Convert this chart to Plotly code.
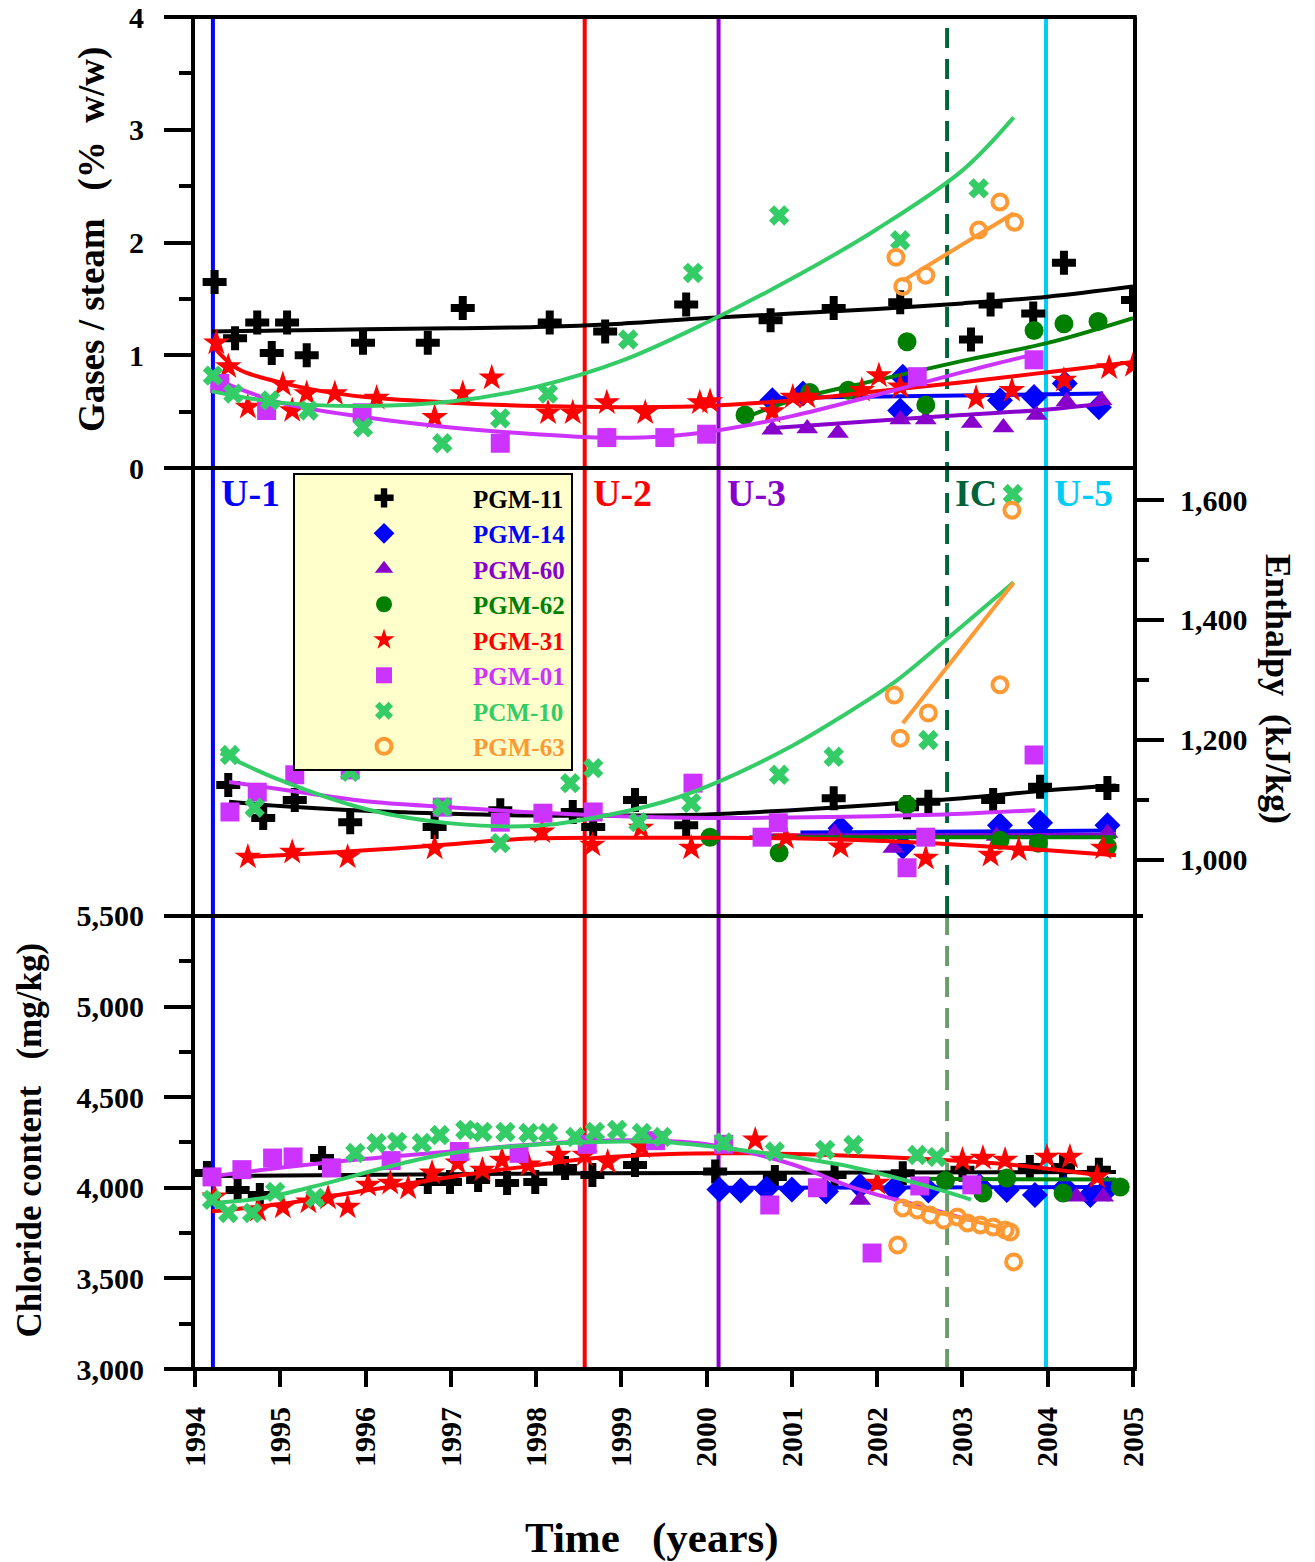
import plotly.graph_objects as go

# ---------------- axes / ticks ----------------
YEARS = list(range(1994, 2006))
GAS_TICKS = [0, 1, 2, 3, 4]
GAS_MINOR = [0.5, 1.5, 2.5, 3.5]
H_TICKS = [1000, 1200, 1400, 1600]
H_MINOR = [1100, 1300, 1500]
CL_TICKS = [3000, 3500, 4000, 4500, 5000, 5500]
CL_MINOR = [3250, 3750, 4250, 4750, 5250]

# ---------------- events ----------------
EVENT_NAMES = ["U-1", "U-2", "U-3", "IC", "U-5"]
EVENT_YEARS = [1994.21, 1998.57, 2000.14, 2002.82, 2003.98]

# ---------------- well order ----------------
WELLS = ["PGM-11", "PGM-14", "PGM-60", "PGM-62", "PGM-31", "PGM-01", "PCM-10", "PGM-63"]

# ================= Gases / steam (% w/w) =================
pgm11_gas_x = [1994.23, 1994.47, 1994.73, 1994.90, 1995.08, 1995.31, 1995.97, 1996.73, 1997.14, 1998.16,
               1998.81, 1999.76, 2000.75, 2001.49, 2002.27, 2003.10, 2003.33, 2003.83, 2004.19, 2005.00]
pgm11_gas_y = [1.65, 1.15, 1.29, 1.02, 1.29, 1.00, 1.11, 1.11, 1.42, 1.29,
               1.21, 1.45, 1.31, 1.42, 1.47, 1.14, 1.45, 1.37, 1.82, 1.49]
pgm11_gas_fit_x = [1994.2, 1995, 1996, 1997, 1998, 1999, 2000, 2001, 2002, 2003, 2004, 2005]
pgm11_gas_fit_y = [1.21, 1.22, 1.23, 1.24, 1.25, 1.28, 1.33, 1.37, 1.41, 1.46, 1.52, 1.61]

pgm14_gas_x = [2000.77, 2001.13, 2002.30, 2002.27, 2003.44, 2003.84, 2004.20, 2004.60]
pgm14_gas_y = [0.60, 0.66, 0.81, 0.51, 0.60, 0.63, 0.75, 0.54]
pgm14_gas_fit_x = [2000.7, 2004.65]
pgm14_gas_fit_y = [0.62, 0.66]

pgm60_gas_x = [2000.77, 2001.18, 2001.54, 2002.27, 2002.57, 2003.11, 2003.48, 2003.87, 2004.22, 2004.63]
pgm60_gas_y = [0.34, 0.35, 0.31, 0.43, 0.43, 0.40, 0.36, 0.47, 0.59, 0.60]
pgm60_gas_fit_x = [2000.7, 2002, 2003, 2004, 2004.65]
pgm60_gas_fit_y = [0.35, 0.42, 0.47, 0.52, 0.57]

pgm62_gas_x = [2000.45, 2001.21, 2001.66, 2002.35, 2002.57, 2003.84, 2004.19, 2004.59]
pgm62_gas_y = [0.47, 0.67, 0.69, 1.12, 0.56, 1.22, 1.28, 1.30]
pgm62_gas_fit_x = [2000.4, 2001, 2002, 2003, 2004, 2005]
pgm62_gas_fit_y = [0.43, 0.60, 0.78, 0.95, 1.11, 1.33]

pgm31_gas_x = [1994.25, 1994.39, 1994.62, 1995.03, 1995.14, 1995.31, 1995.64, 1996.13, 1996.81, 1997.14,
               1997.48, 1998.14, 1998.43, 1998.83, 1999.28, 1999.92, 2000.04, 2000.77, 2001.01, 2001.18,
               2001.82, 2002.02, 2002.27, 2003.16, 2003.58, 2004.19, 2004.72, 2005.00]
pgm31_gas_y = [1.11, 0.90, 0.54, 0.74, 0.51, 0.66, 0.66, 0.62, 0.45, 0.66,
               0.80, 0.49, 0.49, 0.58, 0.49, 0.58, 0.59, 0.50, 0.63, 0.63,
               0.69, 0.82, 0.72, 0.62, 0.69, 0.78, 0.89, 0.91]
pgm31_gas_fit_x = [1994.2, 1994.5, 1995, 1995.5, 1996, 1997, 1998, 1999, 2000, 2001, 2002, 2003, 2004, 2005]
pgm31_gas_fit_y = [1.09, 0.88, 0.76, 0.68, 0.63, 0.58, 0.55, 0.54, 0.55, 0.60, 0.68, 0.76, 0.85, 0.94]

pgm01_gas_x = [1994.29, 1994.84, 1995.96, 1997.58, 1998.83, 1999.51, 2000.00, 2002.47, 2003.84]
pgm01_gas_y = [0.75, 0.51, 0.49, 0.22, 0.27, 0.27, 0.30, 0.81, 0.96]
pgm01_gas_fit_x = [1994.2, 1995, 1996, 1997, 1998, 1998.75, 1999.5, 2000.1, 2001, 2002, 2003, 2003.85]
pgm01_gas_fit_y = [0.80, 0.58, 0.45, 0.36, 0.30, 0.27, 0.28, 0.33, 0.46, 0.65, 0.85, 1.01]

pcm10_gas_x = [1994.21, 1994.45, 1994.88, 1995.33, 1995.97, 1996.90, 1997.58, 1998.14, 1999.08, 1999.84,
               2000.85, 2002.27, 2003.19]
pcm10_gas_y = [0.82, 0.66, 0.60, 0.51, 0.36, 0.22, 0.44, 0.66, 1.14, 1.73, 2.24, 2.02, 2.48]
pcm10_gas_fit_x = [1994.2, 1995, 1996, 1997, 1998, 1999, 2000, 2001, 2002, 2003, 2003.6]
pcm10_gas_fit_y = [0.68, 0.58, 0.55, 0.59, 0.72, 0.95, 1.29, 1.68, 2.12, 2.64, 3.11]

pgm63_gas_x = [2002.22, 2002.30, 2002.57, 2003.19, 2003.44, 2003.61]
pgm63_gas_y = [1.87, 1.61, 1.71, 2.11, 2.36, 2.18]
pgm63_gas_fit_x = [2002.3, 2003.6]
pgm63_gas_fit_y = [1.66, 2.26]

# ================= Enthalpy (kJ/kg) =================
pgm11_h_x = [1994.39, 1994.80, 1995.17, 1995.82, 1996.81, 1997.58, 1998.43, 1998.67, 1999.16, 1999.76,
             2001.49, 2002.35, 2002.60, 2003.36, 2003.91, 2004.70]
pgm11_h_y = [1125, 1070, 1100, 1063, 1055, 1083, 1080, 1055, 1100, 1058,
             1103, 1088, 1097, 1100, 1122, 1120]
pgm11_h_fit_x = [1994.4, 1995, 1996, 1997, 1998, 1999, 2000, 2001, 2002, 2003, 2004, 2004.8]
pgm11_h_fit_y = [1097, 1090, 1082, 1077, 1074, 1074, 1076, 1083, 1092, 1103, 1116, 1124]

pgm14_h_x = [2001.57, 2002.30, 2003.44, 2003.91, 2004.70]
pgm14_h_y = [1053, 1022, 1058, 1062, 1058]
pgm14_h_fit_x = [2001.1, 2004.8]
pgm14_h_fit_y = [1046, 1049]

pgm60_h_x = [2001.50, 2002.19, 2003.40, 2004.70]
pgm60_h_y = [1045, 1020, 1040, 1045]
pgm60_h_fit_x = [2000.7, 2004.8]
pgm60_h_fit_y = [1041, 1042]

pgm62_h_x = [2000.04, 2000.85, 2002.35, 2003.44, 2003.89, 2004.70]
pgm62_h_y = [1038, 1012, 1092, 1033, 1028, 1022]
pgm62_h_fit_x = [2000.5, 2004.8]
pgm62_h_fit_y = [1038, 1038]

pgm31_h_x = [1994.62, 1995.14, 1995.79, 1996.81, 1998.07, 1998.66, 1999.23, 1999.82, 2000.93, 2001.57,
             2002.57, 2003.33, 2003.66, 2004.65]
pgm31_h_y = [1005, 1013, 1005, 1020, 1047, 1025, 1053, 1020, 1037, 1022,
             1003, 1008, 1017, 1020]
pgm31_h_fit_x = [1994.6, 1995, 1996, 1997, 1997.5, 1998, 1999, 2000, 2001, 2002, 2003, 2004, 2004.8]
pgm31_h_fit_y = [1005, 1008, 1016, 1026, 1032, 1036, 1037, 1037, 1036, 1032, 1025, 1016, 1008]

pgm01_h_x = [1994.41, 1994.73, 1995.17, 1995.82, 1996.90, 1997.58, 1998.08, 1998.67, 1999.84, 2000.65,
             2000.84, 2002.35, 2002.57, 2003.84]
pgm01_h_y = [1080, 1113, 1142, 1150, 1088, 1063, 1078, 1080, 1128, 1038,
             1062, 987, 1038, 1175]
pgm01_h_fit_x = [1994.4, 1995, 1996, 1997, 1998, 1999, 2000, 2001, 2002, 2003, 2003.85]
pgm01_h_fit_y = [1130, 1118, 1098, 1088, 1079, 1073, 1070, 1071, 1073, 1077, 1083]

pcm10_h_x = [1994.41, 1994.70, 1995.82, 1996.90, 1997.58, 1998.40, 1998.67, 1999.20, 1999.82, 2000.85,
             2001.49, 2002.60, 2003.59]
pcm10_h_y = [1175, 1087, 1147, 1088, 1028, 1128, 1153, 1063, 1095, 1142, 1172, 1200, 1610]
pcm10_h_fit_x = [1994.3, 1995, 1996, 1997, 1998, 1998.55, 1999.5, 2000.1, 2001, 2001.57, 2002.19, 2002.83, 2003.6]
pcm10_h_fit_y = [1178, 1133, 1085, 1061, 1057, 1067, 1097, 1128, 1190, 1238, 1295, 1370, 1463]

pgm63_h_x = [2002.20, 2002.27, 2002.60, 2003.44, 2003.58]
pgm63_h_y = [1275, 1203, 1245, 1292, 1583]
pgm63_h_fit_x = [2002.3, 2003.6]
pgm63_h_fit_y = [1228, 1462]

# ================= Chloride content (mg/kg) =================
pgm11_cl_x = [1994.14, 1994.50, 1994.76, 1995.49, 1996.73, 1996.99, 1997.32, 1997.66, 1997.99, 1998.34,
              1998.66, 1999.16, 2000.10, 2000.80, 2001.50, 2002.30, 2003.00, 2003.79, 2004.18, 2004.60]
pgm11_cl_y = [4082, 3988, 3960, 4164, 4032, 4032, 4043, 4026, 4032, 4109,
              4071, 4126, 4090, 4060, 4070, 4080, 4100, 4115, 4115, 4100]
pgm11_cl_fit_x = [1994.15, 1997.8, 2000, 2004.8]
pgm11_cl_fit_y = [4065, 4078, 4082, 4087]

pgm14_cl_x = [2000.15, 2000.40, 2000.70, 2001.00, 2001.40, 2001.80, 2002.20, 2002.60, 2003.20, 2003.52,
              2003.85, 2004.20, 2004.50, 2004.70]
pgm14_cl_y = [3990, 3985, 3995, 3990, 3980, 4010, 3995, 3985, 4010, 3988,
              3960, 4000, 3960, 3995]
pgm14_cl_fit_x = [2000.1, 2004.8]
pgm14_cl_fit_y = [4000, 4004]

pgm60_cl_x = [2001.80, 2004.34, 2004.65]
pgm60_cl_y = [3933, 3950, 3950]

pgm62_cl_x = [2002.80, 2003.24, 2003.52, 2004.18, 2004.85]
pgm62_cl_y = [4040, 3971, 4054, 3971, 4004]
pgm62_cl_fit_x = [2002.4, 2004.8]
pgm62_cl_fit_y = [4050, 4045]

pgm31_cl_x = [1994.23, 1994.74, 1995.03, 1995.33, 1995.56, 1995.79, 1996.03, 1996.29, 1996.50, 1996.78,
              1997.08, 1997.37, 1997.60, 1997.91, 1998.26, 1998.57, 1998.84, 1999.24, 2000.57, 2002.00,
              2003.00, 2003.24, 2003.50, 2003.99, 2004.26, 2004.58]
pgm31_cl_y = [3950, 3877, 3894, 3922, 3944, 3894, 4015, 4026, 3999, 4082,
              4137, 4098, 4153, 4126, 4181, 4181, 4142, 4225, 4264, 4026,
              4153, 4164, 4153, 4170, 4170, 4060]
pgm31_cl_fit_x = [1994.2, 1995, 1996, 1997, 1998, 1998.6, 1999.5, 2000.5, 2001.5, 2002.5, 2003.5, 2004.6]
pgm31_cl_fit_y = [3870, 3910, 3985, 4060, 4125, 4160, 4185, 4190, 4180, 4160, 4130, 4070]

pgm01_cl_x = [1994.20, 1994.55, 1994.91, 1995.15, 1995.60, 1996.30, 1997.10, 1997.80, 1998.60, 1999.40,
              2000.20, 2000.74, 2001.30, 2001.94, 2002.50, 2003.11]
pgm01_cl_y = [4060, 4100, 4164, 4170, 4110, 4150, 4200, 4190, 4240, 4260,
              4240, 3905, 4000, 3640, 4010, 4016]
pgm01_cl_fit_x = [1994.15, 1995, 1996, 1997, 1998, 1999, 2000, 2001, 2001.7, 2002.5, 2003.1]
pgm01_cl_fit_y = [4060, 4110, 4160, 4200, 4240, 4262, 4240, 4130, 4004, 3900, 3820]

pcm10_cl_x = [1994.20, 1994.39, 1994.67, 1994.94, 1995.41, 1995.88, 1996.13, 1996.37, 1996.66, 1996.87,
              1997.17, 1997.37, 1997.64, 1997.91, 1998.14, 1998.46, 1998.69, 1998.95, 1999.24, 1999.48,
              2000.20, 2000.80, 2001.39, 2001.72, 2002.47, 2002.70]
pcm10_cl_y = [3933, 3861, 3861, 3977, 3944, 4192, 4247, 4253, 4247, 4291,
              4319, 4308, 4308, 4302, 4302, 4280, 4308, 4319, 4302, 4280,
              4250, 4200, 4209, 4236, 4181, 4170]
pcm10_cl_fit_x = [1994.15, 1994.8, 1995.5, 1996.3, 1997, 1998, 1999, 1999.5, 2000.1, 2001, 2001.7, 2002.5, 2003.1]
pcm10_cl_fit_y = [3915, 3944, 4020, 4120, 4190, 4238, 4255, 4253, 4225, 4170, 4115, 4020, 3935]

pgm63_cl_x = [2002.24, 2002.30, 2002.47, 2002.62, 2002.78, 2002.94, 2003.06, 2003.21, 2003.36, 2003.50,
              2003.56, 2003.60]
pgm63_cl_y = [3684, 3889, 3878, 3850, 3822, 3839, 3806, 3795, 3784, 3767, 3756, 3591]
pgm63_cl_fit_x = [2002.3, 2003.5]
pgm63_cl_fit_y = [3910, 3775]

# ---------------- styles ----------------
STYLE = {
    "PGM-11": dict(color="#000000", symbol="cross", size=20),
    "PGM-14": dict(color="#0000FF", symbol="diamond", size=20),
    "PGM-60": dict(color="#8800CC", symbol="triangle-up", size=19),
    "PGM-62": dict(color="#007F00", symbol="circle", size=19),
    "PGM-31": dict(color="#FF0000", symbol="star", size=20),
    "PGM-01": dict(color="#CC33FF", symbol="square", size=19),
    "PCM-10": dict(color="#33CC66", symbol="x", size=18),
    "PGM-63": dict(color="#FF9933", symbol="circle-open", size=15),
}
EVENT_COLORS = ["#0000FF", "#FF0000", "#8E00CC", "#00633A", "#00CCF5"]
LABEL_COLORS = ["#0000FF", "#FF0000", "#8800CC", "#00633A", "#00CCF5"]
FONT = "Liberation Serif"

PANELS = [
    ("y", {
        "PGM-11": (pgm11_gas_x, pgm11_gas_y, pgm11_gas_fit_x, pgm11_gas_fit_y),
        "PGM-14": (pgm14_gas_x, pgm14_gas_y, pgm14_gas_fit_x, pgm14_gas_fit_y),
        "PGM-60": (pgm60_gas_x, pgm60_gas_y, pgm60_gas_fit_x, pgm60_gas_fit_y),
        "PGM-62": (pgm62_gas_x, pgm62_gas_y, pgm62_gas_fit_x, pgm62_gas_fit_y),
        "PGM-31": (pgm31_gas_x, pgm31_gas_y, pgm31_gas_fit_x, pgm31_gas_fit_y),
        "PGM-01": (pgm01_gas_x, pgm01_gas_y, pgm01_gas_fit_x, pgm01_gas_fit_y),
        "PCM-10": (pcm10_gas_x, pcm10_gas_y, pcm10_gas_fit_x, pcm10_gas_fit_y),
        "PGM-63": (pgm63_gas_x, pgm63_gas_y, pgm63_gas_fit_x, pgm63_gas_fit_y),
    }),
    ("y2", {
        "PGM-11": (pgm11_h_x, pgm11_h_y, pgm11_h_fit_x, pgm11_h_fit_y),
        "PGM-14": (pgm14_h_x, pgm14_h_y, pgm14_h_fit_x, pgm14_h_fit_y),
        "PGM-60": (pgm60_h_x, pgm60_h_y, pgm60_h_fit_x, pgm60_h_fit_y),
        "PGM-62": (pgm62_h_x, pgm62_h_y, pgm62_h_fit_x, pgm62_h_fit_y),
        "PGM-31": (pgm31_h_x, pgm31_h_y, pgm31_h_fit_x, pgm31_h_fit_y),
        "PGM-01": (pgm01_h_x, pgm01_h_y, pgm01_h_fit_x, pgm01_h_fit_y),
        "PCM-10": (pcm10_h_x, pcm10_h_y, pcm10_h_fit_x, pcm10_h_fit_y),
        "PGM-63": (pgm63_h_x, pgm63_h_y, pgm63_h_fit_x, pgm63_h_fit_y),
    }),
    ("y3", {
        "PGM-11": (pgm11_cl_x, pgm11_cl_y, pgm11_cl_fit_x, pgm11_cl_fit_y),
        "PGM-14": (pgm14_cl_x, pgm14_cl_y, pgm14_cl_fit_x, pgm14_cl_fit_y),
        "PGM-60": (pgm60_cl_x, pgm60_cl_y, None, None),
        "PGM-62": (pgm62_cl_x, pgm62_cl_y, pgm62_cl_fit_x, pgm62_cl_fit_y),
        "PGM-31": (pgm31_cl_x, pgm31_cl_y, pgm31_cl_fit_x, pgm31_cl_fit_y),
        "PGM-01": (pgm01_cl_x, pgm01_cl_y, pgm01_cl_fit_x, pgm01_cl_fit_y),
        "PCM-10": (pcm10_cl_x, pcm10_cl_y, pcm10_cl_fit_x, pcm10_cl_fit_y),
        "PGM-63": (pgm63_cl_x, pgm63_cl_y, pgm63_cl_fit_x, pgm63_cl_fit_y),
    }),
]

fig = go.Figure()

for yref, series in PANELS:
    for rank, well in enumerate(WELLS):
        xs, ys, fx, fy = series[well]
        st = STYLE[well]
        if fx is not None:
            fig.add_trace(go.Scatter(
                x=fx, y=fy, mode="lines", yaxis=yref, xaxis="x",
                line=dict(color=st["color"], width=4, shape="spline"),
                showlegend=False, legendgroup=well, hoverinfo="skip"))
        marker = dict(color=st["color"], symbol=st["symbol"], size=st["size"])
        if st["symbol"].endswith("open"):
            marker["line"] = dict(color=st["color"], width=4)
        else:
            marker["line"] = dict(width=0)
        fig.add_trace(go.Scatter(
            x=xs, y=ys, mode="markers", yaxis=yref, xaxis="x",
            marker=marker, legendgroup=well, legendrank=rank + 1,
            name='<span style="color:%s">%s</span>' % (st["color"], well),
            showlegend=(yref == "y")))

# ---------------- shapes ----------------
shapes = []
D_TOP = 0.6664   # boundary gases / enthalpy
D_MID = 0.3351   # boundary enthalpy / chloride
for i, (nm, yr) in enumerate(zip(EVENT_NAMES, EVENT_YEARS)):
    if nm == "IC":
        shapes.append(dict(type="line", xref="x", yref="paper", x0=yr, x1=yr, y0=D_MID, y1=1,
                           line=dict(color="#00633A", width=4, dash="20px,11px"), layer="below"))
        shapes.append(dict(type="line", xref="x", yref="paper", x0=yr, x1=yr, y0=0, y1=D_MID,
                           line=dict(color="#6B9B6B", width=4, dash="20px,11px"), layer="below"))
    else:
        shapes.append(dict(type="line", xref="x", yref="paper", x0=yr, x1=yr, y0=0, y1=1,
                           line=dict(color=EVENT_COLORS[i], width=4), layer="below"))

for yy, xr in [(1.0, 1.004), (D_TOP, 1.004), (D_MID, 1.0107), (0.0, 1.004)]:
    shapes.append(dict(type="line", xref="paper", yref="paper", x0=-0.0288, x1=xr, y0=yy, y1=yy,
                       line=dict(color="black", width=4), layer="above"))

# ---------------- annotations ----------------
ann = []
for i, (nm, yr) in enumerate(zip(EVENT_NAMES, EVENT_YEARS)):
    ann.append(dict(x=yr, xref="x", y=0.648, yref="paper", text=nm, showarrow=False,
                    xanchor="left", xshift=6, yanchor="middle",
                    font=dict(family=FONT, size=38, color=LABEL_COLORS[i], weight="bold")))

ann.append(dict(x=-0.1098, y=0.835, xref="paper", yref="paper", showarrow=False,
                text="Gases / steam\u00a0\u00a0\u00a0(%\u00a0\u00a0w/w)", textangle=-90,
                xanchor="center", yanchor="middle",
                font=dict(family=FONT, size=37, color="black", weight="bold")))
ann.append(dict(x=-0.176, y=0.1696, xref="paper", yref="paper", showarrow=False,
                text="Chloride content\u00a0\u00a0\u00a0(mg/kg)", textangle=-90,
                xanchor="center", yanchor="middle",
                font=dict(family=FONT, size=35, color="black", weight="bold")))
ann.append(dict(x=1.1546, y=0.503, xref="paper", yref="paper", showarrow=False,
                text="Enthalpy\u00a0\u00a0(kJ/kg)", textangle=90,
                xanchor="center", yanchor="middle",
                font=dict(family=FONT, size=36, color="black", weight="bold")))
ann.append(dict(x=0.487, y=-0.125, xref="paper", yref="paper", showarrow=False,
                text="Time\u00a0\u00a0\u00a0(years)", xanchor="center", yanchor="middle",
                font=dict(family=FONT, size=43, color="black", weight="bold")))

tickfont = dict(family=FONT, size=30, color="black", weight="bold")
common_y = dict(showgrid=False, zeroline=False, showline=True, linewidth=4, linecolor="black",
                mirror=True, ticks="outside", ticklen=27, tickwidth=4, tickcolor="black",
                tickfont=tickfont, automargin=False, anchor="x", tickmode="array")

fig.update_layout(
    width=1315, height=1562,
    margin=dict(l=195, r=182, t=17, b=193),
    paper_bgcolor="white", plot_bgcolor="white",
    font=dict(family=FONT, color="black"),
    shapes=shapes, annotations=ann,
    showlegend=True,
    legend=dict(x=0.1045, y=0.6627, xanchor="left", yanchor="top",
                bgcolor="#FFFFCC", bordercolor="black", borderwidth=2,
                font=dict(family=FONT, size=25, color="black", weight="bold"),
                itemwidth=168, traceorder="normal", tracegroupgap=0, itemsizing="trace"),
    xaxis=dict(range=[1994, 2005], domain=[0, 1], anchor="y3", tickmode="array",
               tickvals=YEARS, ticktext=[str(v) for v in YEARS], tickangle=-90,
               ticks="outside", ticklen=17, tickwidth=4, tickcolor="black",
               showgrid=False, zeroline=False, showline=False, tickfont=tickfont,
               automargin=False, ticklabelstandoff=8),
    yaxis=dict(domain=[D_TOP, 1], range=[0, 4], tickvals=GAS_TICKS,
               ticktext=[str(v) for v in GAS_TICKS], ticklabelstandoff=14,
               minor=dict(tickvals=GAS_MINOR, ticks="outside", ticklen=12, tickwidth=4, tickcolor="black"),
               **common_y),
    yaxis2=dict(domain=[D_MID, D_TOP], range=[906.7, 1653.3], side="right", tickvals=H_TICKS,
                ticktext=["{:,}".format(v) for v in H_TICKS], ticklabelstandoff=10,
                minor=dict(tickvals=H_MINOR, ticks="outside", ticklen=12, tickwidth=4, tickcolor="black"),
                **common_y),
    yaxis3=dict(domain=[0, D_MID], range=[3000, 5500], tickvals=CL_TICKS,
                ticktext=["{:,}".format(v) for v in CL_TICKS], ticklabelstandoff=14,
                minor=dict(tickvals=CL_MINOR, ticks="outside", ticklen=12, tickwidth=4, tickcolor="black"),
                **common_y),
)

fig.write_html("out.html")
